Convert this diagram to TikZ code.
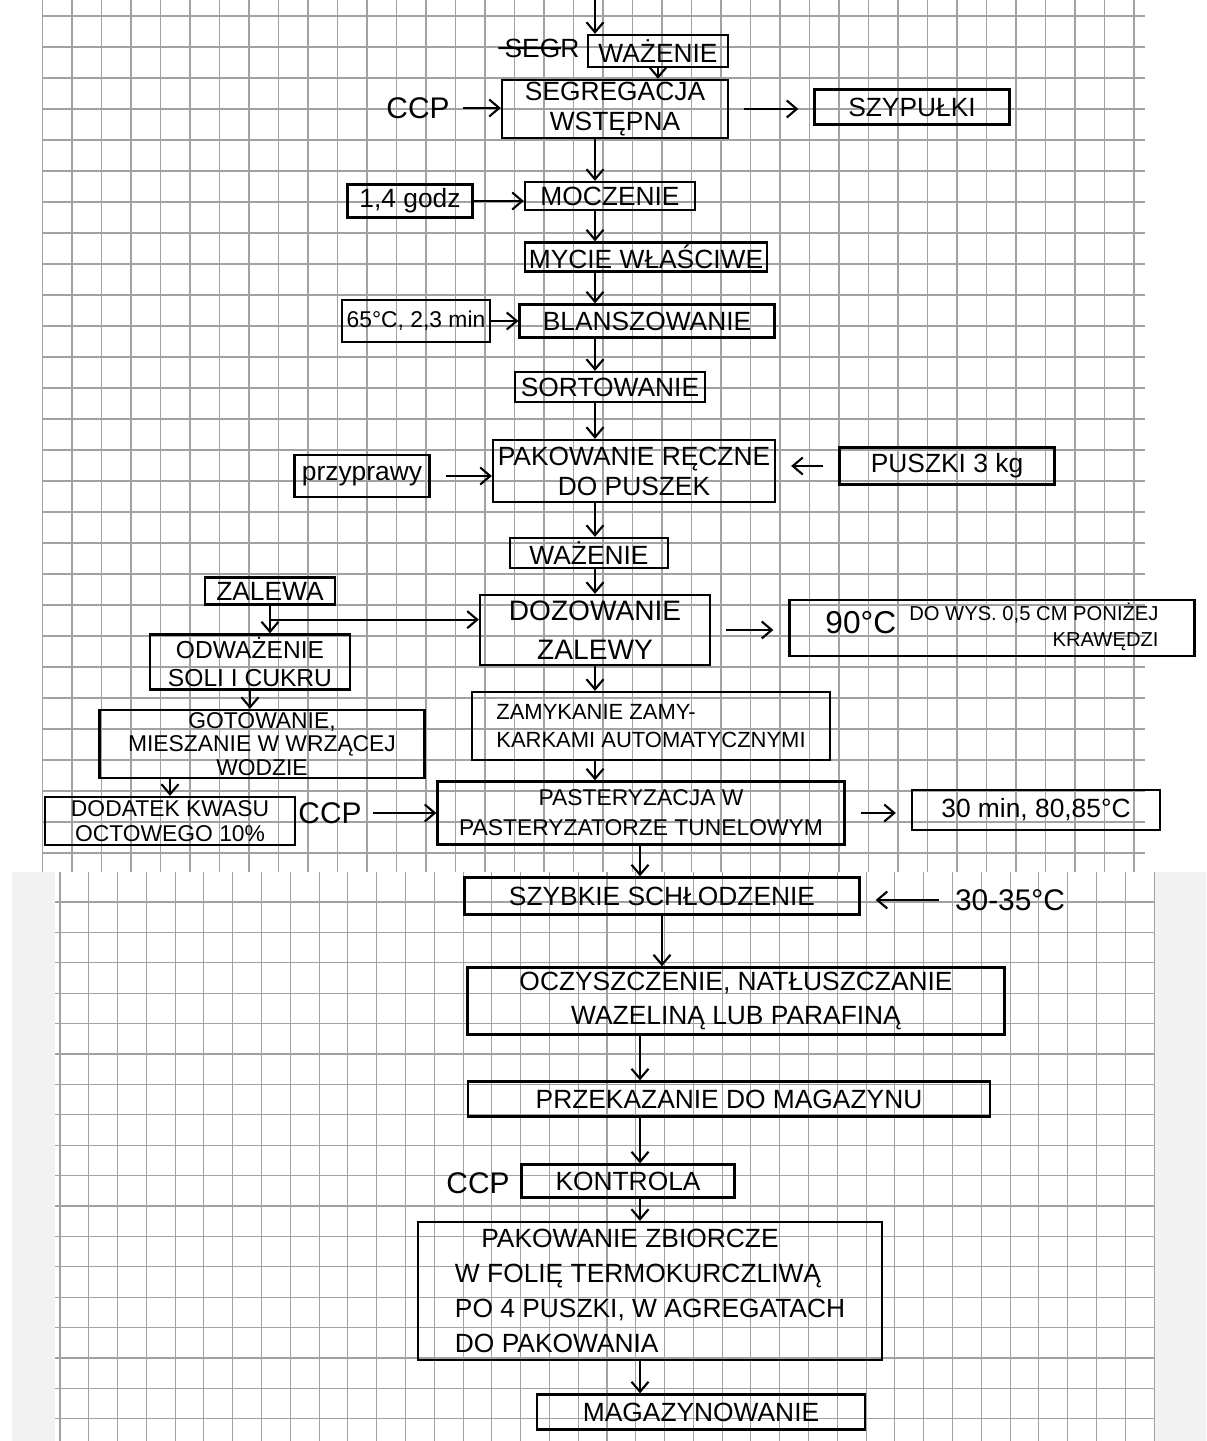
\documentclass[tikz,border=0pt]{standalone}
\usepackage{fontspec}
\setmainfont{Liberation Sans}
\usetikzlibrary{arrows.meta, calc}
\definecolor{gGrid}{HTML}{A2A2A2}
\definecolor{gPaper}{HTML}{F2F2F2}

\begin{document}
\begin{tikzpicture}[x=0.2mm, y=-0.2mm,
    bx/.style={draw, line width=1.3pt, align=center, inner sep=1pt,
      font=\fontsize{15}{17}\selectfont},
    sz/.style 2 args={minimum width=#1*0.2mm, minimum height=#2*0.2mm},
    lb/.style={font=\fontsize{17}{19}\selectfont},
    ar/.style={line width=1.2pt, -{Straight Barb[length=2mm, width=3.4mm]}}]
  \useasboundingbox (0,0) rectangle (1206,1441);
  % squared paper, two scans
  \fill[white] (0,0) rectangle (1206,872);
  \fill[gPaper] (12,872) rectangle (1206,1441);
  \fill[white] (55,872) rectangle (1155,1441);
  \begin{scope}[gGrid, line width=0.6pt]
    \foreach \k in {0,...,37} \draw ({42.5+29.5*\k},0) -- ({42.5+29.5*\k},872);
    \foreach \k in {0,...,27} \draw (42.5,{16+31*\k}) -- (1145,{16+31*\k});
    \foreach \k in {0,...,38} \draw ({60+28.79*\k},872) -- ({60+28.79*\k},1441);
    \foreach \k in {0,...,17} \draw (55,{902+30.4*\k}) -- (1155,{902+30.4*\k});
  \end{scope}

  \coordinate (top) at (595,0);
  \coordinate (col) at (595,0);
  \coordinate (colb) at (640,0);

  \node[lb, font=\fontsize{15}{17}\selectfont] (segr) at (542,48) {SEGR};
  \draw[line width=1.2pt] (segr.west) -- ($(segr.west)!0.72!(segr.east)$);
  \node[bx, sz={140}{32}] (waz1) at (658,51) {WAŻENIE};
  \node[bx, sz={226}{58}] (segreg) at (615,109) {SEGREGACJA\\WSTĘPNA};
  \node[lb] (ccp1) at (418,108) {CCP};
  \node[bx, sz={195}{35}] (szyp) at (912,107) {SZYPUŁKI};
  \node[bx, sz={170}{28}] (mocz) at (610,196) {MOCZENIE};
  \node[bx, sz={125}{33}] (godz) at (410,201) {1,4 godz};
  \node[bx, sz={242}{29}] (mycie) at (646,257) {MYCIE WŁAŚCIWE};
  \node[bx, sz={255}{33}] (blansz) at (647,321) {BLANSZOWANIE};
  \node[bx, sz={148}{42}, font=\fontsize{13}{15}\selectfont] (t65) at (416,321) {65°C, 2,3 min};
  \node[bx, sz={190}{30}] (sort) at (610,387) {SORTOWANIE};
  \node[bx, sz={282}{62}] (pakr) at (634,471) {PAKOWANIE RĘCZNE\\DO PUSZEK};
  \node[bx, sz={135}{42}] (przypr) at (362,476) {przyprawy};
  \node[bx, sz={215}{37}] (puszki) at (947,466) {PUSZKI 3 kg};
  \node[bx, sz={158}{30}] (waz2) at (589,553) {WAŻENIE};
  \node[bx, sz={230}{70}, font=\fontsize{16}{22}\selectfont] (dozow) at (595,630) {DOZOWANIE\\ZALEWY};
  \node[bx, sz={405}{47}] (t90) at (992,628)
    {{\fontsize{18}{20}\selectfont 90°C}\enspace{\fontsize{11.5}{15}\selectfont
     \begin{tabular}[c]{@{}r@{}}DO WYS. 0,5 CM PONIŻEJ\\KRAWĘDZI\end{tabular}}};
  \node[bx, sz={130}{27}] (zalewa) at (270,591) {ZALEWA};
  \node[bx, sz={200}{55}, font=\fontsize{14}{16}\selectfont] (odwaz) at (250,662) {ODWAŻENIE\\SOLI I CUKRU};
  \node[bx, sz={325}{68}, font=\fontsize{13}{13.5}\selectfont] (gotow) at (262,744)
    {GOTOWANIE,\\MIESZANIE W WRZĄCEJ\\WODZIE};
  \node[bx, sz={250}{48}, font=\fontsize{13}{14}\selectfont] (dodatek) at (170,821)
    {DODATEK KWASU\\OCTOWEGO 10\%};
  \node[lb] (ccp2) at (330,813) {CCP};
  \node[bx, sz={358}{68}, align=left, font=\fontsize{12.5}{16}\selectfont] (zamyk) at (651,726)
    {ZAMYKANIE ZAMY-\\KARKAMI AUTOMATYCZNYMI};
  \node[bx, sz={407}{63}, font=\fontsize{13}{17}\selectfont] (paster) at (641,813)
    {PASTERYZACJA W\\PASTERYZATORZE TUNELOWYM};
  \node[bx, sz={248}{40}] (t30) at (1036,810) {30 min, 80,85°C};
  \node[bx, sz={395}{37}] (schl) at (662,896) {SZYBKIE SCHŁODZENIE};
  \node[lb] (t3035) at (1010,900) {30-35°C};
  \node[bx, sz={537}{67}, font=\fontsize{15}{19}\selectfont] (oczysz) at (736,1001)
    {OCZYSZCZENIE, NATŁUSZCZANIE\\WAZELINĄ LUB PARAFINĄ};
  \node[bx, sz={522}{35}] (przek) at (729,1099) {PRZEKAZANIE DO MAGAZYNU};
  \node[bx, sz={213}{33}] (kontr) at (628,1181) {KONTROLA};
  \node[lb] (ccp3) at (478,1183) {CCP};
  \node[bx, sz={464}{138}, align=left, font=\fontsize{15}{20}\selectfont] (pakzb) at (650,1291)
    {\quad PAKOWANIE ZBIORCZE\\W FOLIĘ TERMOKURCZLIWĄ\\PO 4 PUSZKI, W AGREGATACH\\DO PAKOWANIA};
  \node[bx, sz={328}{35}] (magaz) at (701,1412) {MAGAZYNOWANIE};

  \draw[ar] (top) -- (top |- waz1.north);
  \draw[ar] (waz1.south) -- (waz1.south |- segreg.north);
  \draw[ar, shorten <=1.5mm] (ccp1.east) -- (ccp1.east -| segreg.west);
  \draw[ar, shorten <=3mm, shorten >=3mm] (segreg.east) -- (segreg.east -| szyp.west);
  \foreach \a/\b in {segreg/mocz, mocz/mycie, mycie/blansz, blansz/sort, sort/pakr,
                     pakr/waz2, waz2/dozow, dozow/zamyk, zamyk/paster}
    \draw[ar] (\a.south -| col) -- (\b.north -| col);
  \draw[ar] (godz.east) -- (godz.east -| mocz.west);
  \draw[ar] (t65.east) -- (t65.east -| blansz.west);
  \draw[ar, shorten <=3mm] (przypr.east) -- (przypr.east -| pakr.west);
  \draw[ar, shorten <=3mm, shorten >=3mm] (puszki.west) -- (puszki.west -| pakr.east);
  \draw[line width=1.2pt] (zalewa.south) -- ++(0,14) coordinate (zj);
  \draw[ar] (zj) -- (zj -| dozow.west);
  \draw[ar] (zj) -- (zj |- odwaz.north);
  \draw[ar] (odwaz.south) -- (odwaz.south |- gotow.north);
  \draw[ar] (dodatek.north |- gotow.south) -- (dodatek.north);
  \draw[ar, shorten <=1mm] (ccp2.east) -- (ccp2.east -| paster.west);
  \draw[ar, shorten <=3mm, shorten >=3mm] (dozow.east) -- (dozow.east -| t90.west);
  \draw[ar, shorten <=3mm, shorten >=3mm] (paster.east) -- (paster.east -| t30.west);
  \draw[ar, shorten <=2mm, shorten >=3mm] (t3035.west) -- (t3035.west -| schl.east);
  \draw[ar] (schl.south) -- (schl.south |- oczysz.north);
  \foreach \a/\b in {paster/schl, oczysz/przek, przek/kontr, kontr/pakzb, pakzb/magaz}
    \draw[ar] (\a.south -| colb) -- (\b.north -| colb);
\end{tikzpicture}
\end{document}
